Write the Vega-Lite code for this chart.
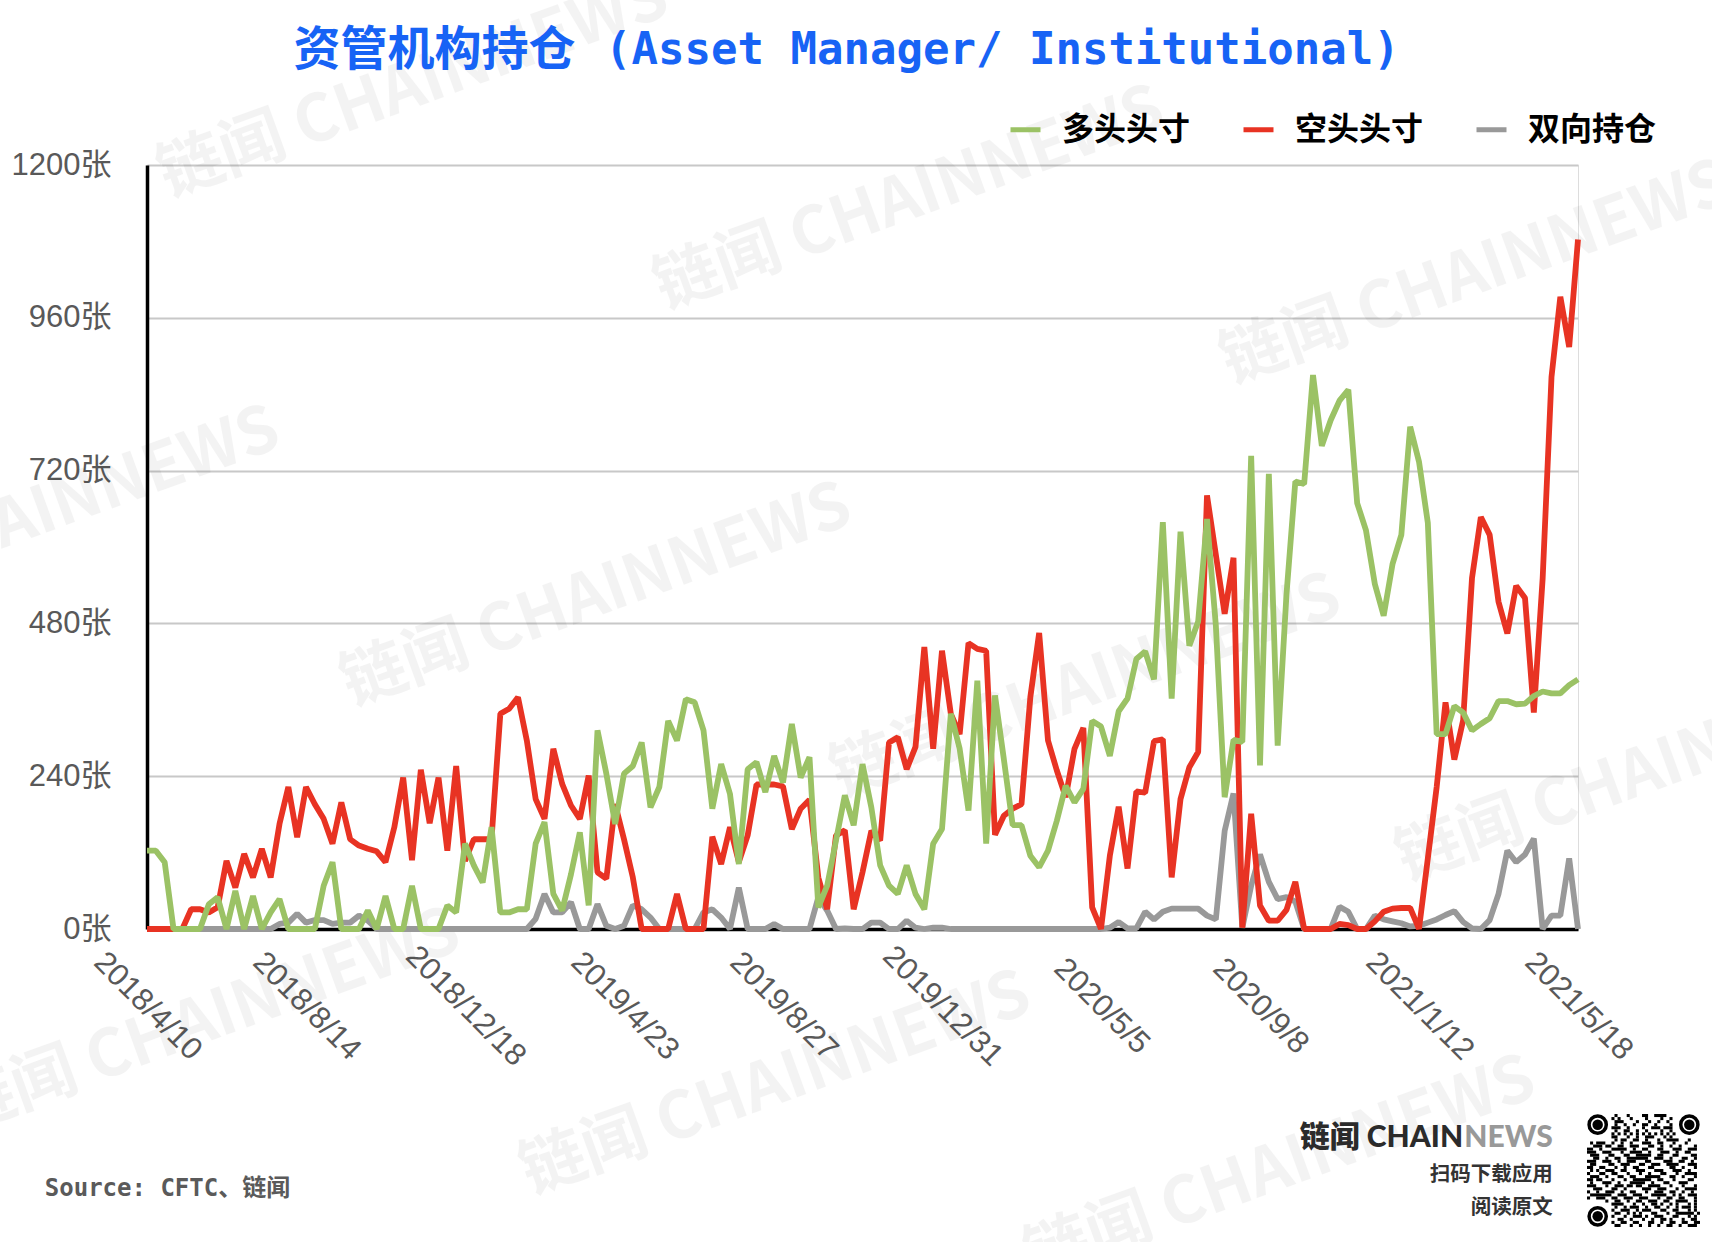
{"$schema":"https://vega.github.io/schema/vega-lite/v6.json","autosize":{"type":"none"},"padding":{"left":147,"top":165,"right":134,"bottom":313},"width":1431,"height":764,"background":"white",
"datasets":{"positions":[
{"d":"2018/4/10","多头头寸":123,"空头头寸":0,"双向持仓":0},{"d":"2018/4/17","多头头寸":123,"空头头寸":0,"双向持仓":0},{"d":"2018/4/24","多头头寸":105,"空头头寸":0,"双向持仓":0},{"d":"2018/5/1","多头头寸":0,"空头头寸":0,"双向持仓":0},{"d":"2018/5/8","多头头寸":0,"空头头寸":0,"双向持仓":0},{"d":"2018/5/15","多头头寸":0,"空头头寸":31,"双向持仓":0},{"d":"2018/5/22","多头头寸":0,"空头头寸":31,"双向持仓":0},{"d":"2018/5/29","多头头寸":39,"空头头寸":26,"双向持仓":0},{"d":"2018/6/5","多头头寸":50,"空头头寸":34,"双向持仓":0},{"d":"2018/6/12","多头头寸":0,"空头头寸":107,"双向持仓":0},
{"d":"2018/6/19","多头头寸":60,"空头头寸":65,"双向持仓":0},{"d":"2018/6/26","多头头寸":0,"空头头寸":118,"双向持仓":0},{"d":"2018/7/3","多头头寸":52,"空头头寸":81,"双向持仓":0},{"d":"2018/7/10","多头头寸":0,"空头头寸":126,"双向持仓":0},{"d":"2018/7/17","多头头寸":26,"空头头寸":81,"双向持仓":0},{"d":"2018/7/24","多头头寸":47,"空头头寸":165,"双向持仓":8},{"d":"2018/7/31","多头头寸":0,"空头头寸":223,"双向持仓":10},{"d":"2018/8/7","多头头寸":0,"空头头寸":144,"双向持仓":24},{"d":"2018/8/14","多头头寸":0,"空头头寸":223,"双向持仓":10},{"d":"2018/8/21","多头头寸":0,"空头头寸":196,"双向持仓":14},
{"d":"2018/8/28","多头头寸":68,"空头头寸":173,"双向持仓":14},{"d":"2018/9/4","多头头寸":105,"空头头寸":134,"双向持仓":8},{"d":"2018/9/11","多头头寸":0,"空头头寸":199,"双向持仓":10},{"d":"2018/9/18","多头头寸":0,"空头头寸":141,"双向持仓":10},{"d":"2018/9/25","多头头寸":0,"空头头寸":131,"双向持仓":21},{"d":"2018/10/2","多头头寸":29,"空头头寸":126,"双向持仓":13},{"d":"2018/10/9","多头头寸":0,"空头头寸":122,"双向持仓":0},{"d":"2018/10/16","多头头寸":52,"空头头寸":105,"双向持仓":0},{"d":"2018/10/23","多头头寸":0,"空头头寸":160,"双向持仓":0},{"d":"2018/10/30","多头头寸":0,"空头头寸":238,"双向持仓":0},
{"d":"2018/11/6","多头头寸":68,"空头头寸":108,"双向持仓":0},{"d":"2018/11/13","多头头寸":0,"空头头寸":250,"双向持仓":0},{"d":"2018/11/20","多头头寸":0,"空头头寸":166,"双向持仓":0},{"d":"2018/11/27","多头头寸":0,"空头头寸":238,"双向持仓":0},{"d":"2018/12/4","多头头寸":37,"空头头寸":123,"双向持仓":0},{"d":"2018/12/11","多头头寸":26,"空头头寸":256,"双向持仓":0},{"d":"2018/12/18","多头头寸":134,"空头头寸":107,"双向持仓":0},{"d":"2018/12/25","多头头寸":100,"空头头寸":141,"双向持仓":0},{"d":"2019/1/1","多头头寸":73,"空头头寸":141,"双向持仓":0},{"d":"2019/1/8","多头头寸":160,"空头头寸":141,"双向持仓":0},
{"d":"2019/1/15","多头头寸":26,"空头头寸":338,"双向持仓":0},{"d":"2019/1/22","多头头寸":26,"空头头寸":346,"双向持仓":0},{"d":"2019/1/29","多头头寸":31,"空头头寸":364,"双向持仓":0},{"d":"2019/2/5","多头头寸":31,"空头头寸":296,"双向持仓":0},{"d":"2019/2/12","多头头寸":134,"空头头寸":204,"双向持仓":16},{"d":"2019/2/19","多头头寸":168,"空头头寸":173,"双向持仓":55},{"d":"2019/2/26","多头头寸":55,"空头头寸":283,"双向持仓":26},{"d":"2019/3/5","多头头寸":29,"空头头寸":228,"双向持仓":26},{"d":"2019/3/12","多头头寸":86,"空头头寸":194,"双向持仓":42},{"d":"2019/3/19","多头头寸":152,"空头头寸":173,"双向持仓":0},
{"d":"2019/3/26","多头头寸":37,"空头头寸":241,"双向持仓":0},{"d":"2019/4/2","多头头寸":312,"空头头寸":89,"双向持仓":39},{"d":"2019/4/9","多头头寸":244,"空头头寸":79,"双向持仓":5},{"d":"2019/4/16","多头头寸":165,"空头头寸":196,"双向持仓":0},{"d":"2019/4/23","多头头寸":244,"空头头寸":141,"双向持仓":5},{"d":"2019/4/30","多头头寸":256,"空头头寸":81,"双向持仓":37},{"d":"2019/5/7","多头头寸":293,"空头头寸":0,"双向持仓":31},{"d":"2019/5/14","多头头寸":191,"空头头寸":0,"双向持仓":18},{"d":"2019/5/21","多头头寸":223,"空头头寸":0,"双向持仓":0},{"d":"2019/5/28","多头头寸":327,"空头头寸":0,"双向持仓":0},
{"d":"2019/6/4","多头头寸":296,"空头头寸":55,"双向持仓":0},{"d":"2019/6/11","多头头寸":361,"空头头寸":0,"双向持仓":0},{"d":"2019/6/18","多头头寸":356,"空头头寸":0,"双向持仓":0},{"d":"2019/6/25","多头头寸":312,"空头头寸":0,"双向持仓":26},{"d":"2019/7/2","多头头寸":189,"空头头寸":145,"双向持仓":31},{"d":"2019/7/9","多头头寸":259,"空头头寸":102,"双向持仓":18},{"d":"2019/7/16","多头头寸":212,"空头头寸":160,"双向持仓":0},{"d":"2019/7/23","多头头寸":102,"空头头寸":105,"双向持仓":65},{"d":"2019/7/30","多头头寸":251,"空头头寸":147,"双向持仓":0},{"d":"2019/8/6","多头头寸":262,"空头头寸":227,"双向持仓":0},
{"d":"2019/8/13","多头头寸":215,"空头头寸":227,"双向持仓":0},{"d":"2019/8/20","多头头寸":272,"空头头寸":227,"双向持仓":8},{"d":"2019/8/27","多头头寸":230,"空头头寸":224,"双向持仓":0},{"d":"2019/9/3","多头头寸":322,"空头头寸":157,"双向持仓":0},{"d":"2019/9/10","多头头寸":238,"空头头寸":189,"双向持仓":0},{"d":"2019/9/17","多头头寸":270,"空头头寸":203,"双向持仓":0},{"d":"2019/9/24","多头头寸":34,"空头头寸":81,"双向持仓":50},{"d":"2019/10/1","多头头寸":68,"空头头寸":31,"双向持仓":29},{"d":"2019/10/8","多头头寸":139,"空头头寸":147,"双向持仓":0},{"d":"2019/10/15","多头头寸":210,"空头头寸":155,"双向持仓":1},
{"d":"2019/10/22","多头头寸":163,"空头头寸":31,"双向持仓":0},{"d":"2019/10/29","多头头寸":259,"空头头寸":89,"双向持仓":0},{"d":"2019/11/5","多头头寸":191,"空头头寸":154,"双向持仓":10},{"d":"2019/11/12","多头头寸":100,"空头头寸":139,"双向持仓":10},{"d":"2019/11/19","多头头寸":68,"空头头寸":293,"双向持仓":0},{"d":"2019/11/26","多头头寸":55,"空头头寸":301,"双向持仓":0},{"d":"2019/12/3","多头头寸":100,"空头头寸":251,"双向持仓":13},{"d":"2019/12/10","多头头寸":55,"空头头寸":286,"双向持仓":2},{"d":"2019/12/17","多头头寸":31,"空头头寸":443,"双向持仓":0},{"d":"2019/12/24","多头头寸":134,"空头头寸":283,"双向持仓":2},
{"d":"2019/12/31","多头头寸":157,"空头头寸":437,"双向持仓":2},{"d":"2020/1/7","多头头寸":338,"空头头寸":338,"双向持仓":0},{"d":"2020/1/14","多头头寸":283,"空头头寸":306,"双向持仓":0},{"d":"2020/1/21","多头头寸":186,"空头头寸":449,"双向持仓":0},{"d":"2020/1/28","多头头寸":390,"空头头寸":440,"双向持仓":0},{"d":"2020/2/4","多头头寸":134,"空头头寸":437,"双向持仓":0},{"d":"2020/2/11","多头头寸":367,"空头头寸":148,"双向持仓":0},{"d":"2020/2/18","多头头寸":267,"空头头寸":178,"双向持仓":0},{"d":"2020/2/25","多头头寸":163,"空头头寸":189,"双向持仓":0},{"d":"2020/3/3","多头头寸":163,"空头头寸":196,"双向持仓":0},
{"d":"2020/3/10","多头头寸":115,"空头头寸":364,"双向持仓":0},{"d":"2020/3/17","多头头寸":97,"空头头寸":465,"双向持仓":0},{"d":"2020/3/24","多头头寸":123,"空头头寸":296,"双向持仓":0},{"d":"2020/3/31","多头头寸":170,"空头头寸":249,"双向持仓":0},{"d":"2020/4/7","多头头寸":225,"空头头寸":207,"双向持仓":0},{"d":"2020/4/14","多头头寸":199,"空头头寸":283,"双向持仓":0},{"d":"2020/4/21","多头头寸":220,"空头头寸":316,"双向持仓":0},{"d":"2020/4/28","多头头寸":327,"空头头寸":34,"双向持仓":0},{"d":"2020/5/5","多头头寸":318,"空头头寸":0,"双向持仓":0},{"d":"2020/5/12","多头头寸":272,"空头头寸":115,"双向持仓":2},
{"d":"2020/5/19","多头头寸":342,"空头头寸":192,"双向持仓":11},{"d":"2020/5/26","多头头寸":362,"空头头寸":95,"双向持仓":1},{"d":"2020/6/2","多头头寸":424,"空头头寸":216,"双向持仓":1},{"d":"2020/6/9","多头头寸":436,"空头头寸":214,"双向持仓":27},{"d":"2020/6/16","多头头寸":392,"空头头寸":295,"双向持仓":15},{"d":"2020/6/23","多头头寸":639,"空头头寸":298,"双向持仓":27},{"d":"2020/6/30","多头头寸":362,"空头头寸":81,"双向持仓":32},{"d":"2020/7/7","多头头寸":624,"空头头寸":204,"双向持仓":32},{"d":"2020/7/14","多头头寸":445,"空头头寸":254,"双向持仓":32},{"d":"2020/7/21","多头头寸":483,"空头头寸":278,"双向持仓":32},
{"d":"2020/7/28","多头头寸":644,"空头头寸":681,"双向持仓":21},{"d":"2020/8/4","多头头寸":477,"空头头寸":588,"双向持仓":15},{"d":"2020/8/11","多头头寸":207,"空头头寸":495,"双向持仓":154},{"d":"2020/8/18","多头头寸":297,"空头头寸":583,"双向持仓":213},{"d":"2020/8/25","多头头寸":294,"空头头寸":2,"双向持仓":2},{"d":"2020/9/1","多头头寸":743,"空头头寸":181,"双向持仓":68},{"d":"2020/9/8","多头头寸":257,"空头头寸":37,"双向持仓":117},{"d":"2020/9/15","多头头寸":715,"空头头寸":13,"双向持仓":74},{"d":"2020/9/22","多头头寸":288,"空头头寸":13,"双向持仓":47},{"d":"2020/9/29","多头头寸":526,"空头头寸":30,"双向持仓":50},
{"d":"2020/10/6","多头头寸":703,"空头头寸":74,"双向持仓":43},{"d":"2020/10/13","多头头寸":699,"空头头寸":0,"双向持仓":0},{"d":"2020/10/20","多头头寸":870,"空头头寸":0,"双向持仓":0},{"d":"2020/10/27","多头头寸":759,"空头头寸":0,"双向持仓":0},{"d":"2020/11/3","多头头寸":799,"空头头寸":0,"双向持仓":0},{"d":"2020/11/10","多头头寸":830,"空头头寸":8,"双向持仓":35},{"d":"2020/11/17","多头头寸":847,"空头头寸":6,"双向持仓":27},{"d":"2020/11/24","多头头寸":669,"空头头寸":0,"双向持仓":0},{"d":"2020/12/1","多头头寸":626,"空头头寸":0,"双向持仓":0},{"d":"2020/12/8","多头头寸":542,"空头头寸":12,"双向持仓":21},
{"d":"2020/12/15","多头头寸":492,"空头头寸":27,"双向持仓":15},{"d":"2020/12/22","多头头寸":573,"空头头寸":32,"双向持仓":12},{"d":"2020/12/29","多头头寸":619,"空头头寸":33,"双向持仓":9},{"d":"2021/1/5","多头头寸":789,"空头头寸":33,"双向持仓":4},{"d":"2021/1/12","多头头寸":734,"空头头寸":0,"双向持仓":5},{"d":"2021/1/19","多头头寸":638,"空头头寸":111,"双向持仓":10},{"d":"2021/1/26","多头头寸":306,"空头头寸":223,"双向持仓":15},{"d":"2021/2/2","多头头寸":306,"空头头寸":356,"双向持仓":22},{"d":"2021/2/9","多头头寸":350,"空头头寸":266,"双向持仓":28},{"d":"2021/2/16","多头头寸":340,"空头头寸":328,"双向持仓":11},
{"d":"2021/2/23","多头头寸":312,"空头头寸":551,"双向持仓":1},{"d":"2021/3/2","多头头寸":322,"空头头寸":647,"双向持仓":0},{"d":"2021/3/9","多头头寸":331,"空头头寸":619,"双向持仓":14},{"d":"2021/3/16","多头头寸":358,"空头头寸":514,"双向持仓":55},{"d":"2021/3/23","多头头寸":358,"空头头寸":464,"双向持仓":123},{"d":"2021/3/30","多头头寸":353,"空头头寸":539,"双向持仓":105},{"d":"2021/4/6","多头头寸":354,"空头头寸":520,"双向持仓":117},{"d":"2021/4/13","多头头寸":366,"空头头寸":340,"双向持仓":142},{"d":"2021/4/20","多头头寸":373,"空头头寸":551,"双向持仓":0},{"d":"2021/4/27","多头头寸":370,"空头头寸":867,"双向持仓":21},
{"d":"2021/5/4","多头头寸":370,"空头头寸":993,"双向持仓":21},{"d":"2021/5/11","多头头寸":383,"空头头寸":914,"双向持仓":111},{"d":"2021/5/18","多头头寸":392,"空头头寸":1083,"双向持仓":0}
],
"qr":[
{"r":0,"a":9,"b":10},{"r":0,"a":13,"b":14},{"r":0,"a":18,"b":20},{"r":0,"a":22,"b":26},
{"r":1,"a":8,"b":9},{"r":1,"a":10,"b":11},{"r":1,"a":14,"b":15},{"r":1,"a":19,"b":20},{"r":1,"a":24,"b":25},{"r":1,"a":27,"b":28},
{"r":2,"a":9,"b":12},{"r":2,"a":16,"b":17},{"r":2,"a":20,"b":21},{"r":2,"a":23,"b":24},{"r":2,"a":26,"b":27},
{"r":3,"a":9,"b":10},{"r":3,"a":12,"b":13},{"r":3,"a":15,"b":16},{"r":3,"a":18,"b":20},{"r":3,"a":22,"b":23},{"r":3,"a":27,"b":28},
{"r":4,"a":8,"b":11},{"r":4,"a":13,"b":14},{"r":4,"a":18,"b":19},{"r":4,"a":21,"b":24},{"r":4,"a":25,"b":28},
{"r":5,"a":9,"b":10},{"r":5,"a":12,"b":14},{"r":5,"a":16,"b":17},{"r":5,"a":19,"b":20},{"r":5,"a":24,"b":25},{"r":5,"a":27,"b":28},
{"r":6,"a":8,"b":9},{"r":6,"a":10,"b":11},{"r":6,"a":12,"b":13},{"r":6,"a":14,"b":15},{"r":6,"a":16,"b":17},{"r":6,"a":18,"b":19},{"r":6,"a":20,"b":21},{"r":6,"a":22,"b":23},{"r":6,"a":24,"b":25},{"r":6,"a":26,"b":27},{"r":6,"a":28,"b":29},
{"r":7,"a":8,"b":10},{"r":7,"a":13,"b":14},{"r":7,"a":16,"b":17},{"r":7,"a":19,"b":22},{"r":7,"a":25,"b":26},{"r":7,"a":27,"b":28},
{"r":8,"a":9,"b":10},{"r":8,"a":11,"b":13},{"r":8,"a":15,"b":17},{"r":8,"a":19,"b":20},{"r":8,"a":23,"b":24},{"r":8,"a":26,"b":30},{"r":8,"a":33,"b":34},
{"r":9,"a":1,"b":2},{"r":9,"a":3,"b":6},{"r":9,"a":8,"b":9},{"r":9,"a":11,"b":12},{"r":9,"a":14,"b":15},{"r":9,"a":18,"b":21},{"r":9,"a":23,"b":25},{"r":9,"a":28,"b":29},{"r":9,"a":32,"b":33},
{"r":10,"a":2,"b":5},{"r":10,"a":6,"b":8},{"r":10,"a":10,"b":12},{"r":10,"a":14,"b":17},{"r":10,"a":20,"b":22},{"r":10,"a":24,"b":25},{"r":10,"a":27,"b":28},{"r":10,"a":30,"b":31},{"r":10,"a":35,"b":36},
{"r":11,"a":0,"b":2},{"r":11,"a":4,"b":5},{"r":11,"a":8,"b":13},{"r":11,"a":15,"b":16},{"r":11,"a":18,"b":20},{"r":11,"a":23,"b":25},{"r":11,"a":28,"b":31},{"r":11,"a":33,"b":36},
{"r":12,"a":0,"b":3},{"r":12,"a":5,"b":8},{"r":12,"a":11,"b":12},{"r":12,"a":14,"b":18},{"r":12,"a":20,"b":21},{"r":12,"a":24,"b":27},{"r":12,"a":29,"b":30},{"r":12,"a":32,"b":34},
{"r":13,"a":1,"b":4},{"r":13,"a":7,"b":9},{"r":13,"a":12,"b":14},{"r":13,"a":16,"b":21},{"r":13,"a":23,"b":25},{"r":13,"a":28,"b":30},{"r":13,"a":34,"b":36},
{"r":14,"a":2,"b":4},{"r":14,"a":6,"b":7},{"r":14,"a":9,"b":11},{"r":14,"a":13,"b":20},{"r":14,"a":22,"b":25},{"r":14,"a":27,"b":28},{"r":14,"a":31,"b":33},{"r":14,"a":35,"b":36},
{"r":15,"a":0,"b":3},{"r":15,"a":5,"b":8},{"r":15,"a":10,"b":11},{"r":15,"a":13,"b":16},{"r":15,"a":19,"b":21},{"r":15,"a":25,"b":28},{"r":15,"a":30,"b":32},{"r":15,"a":34,"b":35},
{"r":16,"a":1,"b":3},{"r":16,"a":7,"b":9},{"r":16,"a":11,"b":14},{"r":16,"a":17,"b":19},{"r":16,"a":21,"b":24},{"r":16,"a":26,"b":30},{"r":16,"a":33,"b":36},
{"r":17,"a":0,"b":2},{"r":17,"a":4,"b":6},{"r":17,"a":9,"b":10},{"r":17,"a":12,"b":13},{"r":17,"a":15,"b":17},{"r":17,"a":20,"b":22},{"r":17,"a":27,"b":29},{"r":17,"a":31,"b":32},{"r":17,"a":35,"b":36},
{"r":18,"a":1,"b":2},{"r":18,"a":3,"b":4},{"r":18,"a":6,"b":9},{"r":18,"a":11,"b":13},{"r":18,"a":16,"b":19},{"r":18,"a":22,"b":25},{"r":18,"a":28,"b":31},{"r":18,"a":33,"b":34},
{"r":19,"a":0,"b":1},{"r":19,"a":4,"b":6},{"r":19,"a":8,"b":10},{"r":19,"a":13,"b":14},{"r":19,"a":17,"b":18},{"r":19,"a":20,"b":21},{"r":19,"a":24,"b":26},{"r":19,"a":29,"b":30},{"r":19,"a":32,"b":36},
{"r":20,"a":1,"b":4},{"r":20,"a":6,"b":7},{"r":20,"a":10,"b":12},{"r":20,"a":14,"b":16},{"r":20,"a":19,"b":24},{"r":20,"a":27,"b":29},{"r":20,"a":31,"b":32},{"r":20,"a":35,"b":36},
{"r":21,"a":0,"b":2},{"r":21,"a":3,"b":5},{"r":21,"a":8,"b":9},{"r":21,"a":12,"b":13},{"r":21,"a":15,"b":21},{"r":21,"a":23,"b":25},{"r":21,"a":28,"b":29},{"r":21,"a":33,"b":35},
{"r":22,"a":1,"b":2},{"r":22,"a":5,"b":8},{"r":22,"a":10,"b":11},{"r":22,"a":14,"b":19},{"r":22,"a":21,"b":22},{"r":22,"a":25,"b":27},{"r":22,"a":30,"b":33},
{"r":23,"a":0,"b":3},{"r":23,"a":6,"b":7},{"r":23,"a":9,"b":12},{"r":23,"a":13,"b":15},{"r":23,"a":16,"b":18},{"r":23,"a":20,"b":24},{"r":23,"a":27,"b":28},{"r":23,"a":31,"b":32},{"r":23,"a":35,"b":36},
{"r":24,"a":2,"b":5},{"r":24,"a":8,"b":10},{"r":24,"a":12,"b":13},{"r":24,"a":18,"b":21},{"r":24,"a":23,"b":26},{"r":24,"a":29,"b":30},{"r":24,"a":32,"b":36},
{"r":25,"a":0,"b":1},{"r":25,"a":3,"b":4},{"r":25,"a":6,"b":9},{"r":25,"a":11,"b":12},{"r":25,"a":14,"b":16},{"r":25,"a":19,"b":20},{"r":25,"a":22,"b":25},{"r":25,"a":27,"b":29},{"r":25,"a":31,"b":32},{"r":25,"a":34,"b":35},
{"r":26,"a":1,"b":8},{"r":26,"a":10,"b":13},{"r":26,"a":15,"b":18},{"r":26,"a":21,"b":26},{"r":26,"a":28,"b":29},{"r":26,"a":30,"b":31},{"r":26,"a":33,"b":36},
{"r":27,"a":0,"b":1},{"r":27,"a":3,"b":6},{"r":27,"a":8,"b":10},{"r":27,"a":12,"b":15},{"r":27,"a":17,"b":20},{"r":27,"a":23,"b":24},{"r":27,"a":26,"b":28},{"r":27,"a":30,"b":32},{"r":27,"a":35,"b":36},
{"r":28,"a":6,"b":7},{"r":28,"a":9,"b":11},{"r":28,"a":13,"b":14},{"r":28,"a":16,"b":18},{"r":28,"a":20,"b":23},{"r":28,"a":25,"b":27},{"r":28,"a":29,"b":33},{"r":28,"a":35,"b":36},
{"r":29,"a":8,"b":12},{"r":29,"a":15,"b":16},{"r":29,"a":18,"b":19},{"r":29,"a":21,"b":23},{"r":29,"a":24,"b":25},{"r":29,"a":27,"b":28},{"r":29,"a":29,"b":30},{"r":29,"a":33,"b":34},{"r":29,"a":35,"b":36},
{"r":30,"a":9,"b":10},{"r":30,"a":12,"b":13},{"r":30,"a":14,"b":17},{"r":30,"a":19,"b":20},{"r":30,"a":22,"b":24},{"r":30,"a":26,"b":27},{"r":30,"a":29,"b":30},{"r":30,"a":31,"b":34},{"r":30,"a":35,"b":36},
{"r":31,"a":8,"b":9},{"r":31,"a":11,"b":14},{"r":31,"a":16,"b":17},{"r":31,"a":18,"b":21},{"r":31,"a":24,"b":26},{"r":31,"a":28,"b":30},{"r":31,"a":33,"b":34},{"r":31,"a":35,"b":36},
{"r":32,"a":9,"b":11},{"r":32,"a":13,"b":14},{"r":32,"a":15,"b":16},{"r":32,"a":17,"b":18},{"r":32,"a":21,"b":23},{"r":32,"a":26,"b":27},{"r":32,"a":29,"b":35},{"r":32,"a":36,"b":37},
{"r":33,"a":8,"b":9},{"r":33,"a":12,"b":13},{"r":33,"a":15,"b":18},{"r":33,"a":19,"b":20},{"r":33,"a":22,"b":25},{"r":33,"a":28,"b":30},{"r":33,"a":33,"b":34},{"r":33,"a":35,"b":36},
{"r":34,"a":10,"b":12},{"r":34,"a":14,"b":15},{"r":34,"a":18,"b":19},{"r":34,"a":21,"b":22},{"r":34,"a":24,"b":26},{"r":34,"a":27,"b":28},{"r":34,"a":31,"b":32},{"r":34,"a":34,"b":36},
{"r":35,"a":8,"b":9},{"r":35,"a":11,"b":13},{"r":35,"a":15,"b":17},{"r":35,"a":20,"b":22},{"r":35,"a":24,"b":25},{"r":35,"a":27,"b":29},{"r":35,"a":31,"b":33},{"r":35,"a":35,"b":37},
{"r":36,"a":9,"b":11},{"r":36,"a":14,"b":15},{"r":36,"a":17,"b":18},{"r":36,"a":20,"b":21},{"r":36,"a":23,"b":24},{"r":36,"a":26,"b":28},{"r":36,"a":30,"b":31},{"r":36,"a":33,"b":36}
],
"finder":[{"r":3,"a":3.5},{"r":3,"a":33.5},{"r":33,"a":3.5}]},
"layer":[
{"encoding":{
"x":{"field":"d","type":"temporal","title":null,"scale":{"domain":[{"year":2018,"month":4,"date":10},{"year":2021,"month":5,"date":18}],"nice":false},"axis":{"values":[{"year":2018,"month":4,"date":10},{"year":2018,"month":8,"date":14},{"year":2018,"month":12,"date":18},{"year":2019,"month":4,"date":23},{"year":2019,"month":8,"date":27},{"year":2019,"month":12,"date":31},{"year":2020,"month":5,"date":5},{"year":2020,"month":9,"date":8},{"year":2021,"month":1,"date":12},{"year":2021,"month":5,"date":18}],"format":"%Y/%-m/%-d","grid":false,"ticks":false,"domainColor":"black","domainWidth":3.5,"labelAngle":45,"labelAlign":"center","labelBaseline":"middle","labelPadding":77,"labelFontSize":31,"labelFont":"Liberation Sans","labelColor":"#595959","labelOverlap":false,"labelFlush":false,"labelBound":false}},
"y":{"field":"v","type":"quantitative","title":null,"scale":{"domain":[0,1200],"nice":false},"axis":{"values":[0,240,480,720,960,1200],"labelExpr":"datum.value + '张'","grid":true,"gridColor":"#c8c8c8","gridWidth":2,"ticks":false,"domainColor":"black","domainWidth":3.5,"labelPadding":36,"labelFontSize":31,"labelFont":"Liberation Sans, Noto Sans CJK SC","labelColor":"#595959","labelOverlap":false,"labelFlush":false,"labelBound":false}}
},
"layer":[
{"data":{"values":[{"d":"2018/11/7","v":1323,"t":"链闻 CHAINNEWS"},{"d":"2019/12/5","v":1147,"t":"链闻 CHAINNEWS"},{"d":"2021/2/26","v":1030,"t":"链闻 CHAINNEWS"},{"d":"2019/4/1","v":524,"t":"链闻 CHAINNEWS"},{"d":"2018/1/3","v":644,"t":"链闻 CHAINNEWS"},{"d":"2020/4/23","v":381,"t":"链闻 CHAINNEWS"},{"d":"2021/7/15","v":249,"t":"链闻 CHAINNEWS"},{"d":"2018/5/26","v":-145,"t":"链闻 CHAINNEWS"},{"d":"2019/8/21","v":-243,"t":"链闻 CHAINNEWS"},{"d":"2020/9/24","v":-376,"t":"链闻 CHAINNEWS"}]},
"mark":{"type":"text","font":"Noto Sans CJK SC","fontWeight":"bold","fontSize":65,"color":"#000000","opacity":0.045,"angle":340,"align":"center","baseline":"middle"},"encoding":{"text":{"field":"t"}}},
{"data":{"name":"positions"},"transform":[{"fold":["双向持仓","空头头寸","多头头寸"],"as":["series","v"]}],
"mark":{"type":"line","strokeWidth":5.8,"strokeJoin":"bevel"},
"encoding":{"color":{"field":"series","type":"nominal","scale":{"domain":["多头头寸","空头头寸","双向持仓"],"range":["#9BC265","#E83323","#999999"]},"legend":{"title":null,"orient":"none","legendX":861,"legendY":-53,"direction":"horizontal","columns":3,"symbolType":"stroke","symbolSize":900,"symbolStrokeWidth":5,"labelFont":"Noto Sans CJK SC","labelFontWeight":"bold","labelFontSize":32,"labelColor":"black","labelOffset":19,"columnPadding":42}}}},
{"data":{"values":[{"d":"2018/8/4","v":1379,"t":"资管机构持仓"}]},"mark":{"type":"text","font":"Noto Sans CJK SC","fontWeight":"bold","fontSize":47,"color":"#1763F5","align":"left","baseline":"middle"},"encoding":{"text":{"field":"t"}}},
{"data":{"values":[{"d":"2019/4/8","v":1379,"t":"(Asset Manager/ Institutional)"}]},"mark":{"type":"text","font":"DejaVu Sans Mono","fontWeight":"bold","fontSize":44,"color":"#1763F5","align":"left","baseline":"middle"},"encoding":{"text":{"field":"t"}}},
{"data":{"values":[{"d":"2018/1/19","v":-408,"t":"Source: CFTC、链闻"}]},"mark":{"type":"text","font":"DejaVu Sans Mono, Noto Sans CJK SC","fontWeight":"bold","fontSize":24,"color":"#5a5a5a","align":"left","baseline":"middle"},"encoding":{"text":{"field":"t"}}},
{"data":{"values":[{"d":"2021/2/16","v":-328,"t":"链闻 CHAIN"}]},"mark":{"type":"text","font":"Lato, Noto Sans CJK SC","fontWeight":900,"fontSize":30,"color":"#2b2b2b","align":"right","baseline":"middle"},"encoding":{"text":{"field":"t"}}},
{"data":{"values":[{"d":"2021/4/28","v":-328,"t":"NEWS"}]},"mark":{"type":"text","font":"Lato, Noto Sans CJK SC","fontWeight":900,"fontSize":30,"color":"#999999","align":"right","baseline":"middle"},"encoding":{"text":{"field":"t"}}},
{"data":{"values":[{"d":"2021/4/28","v":-386,"t":"扫码下载应用"},{"d":"2021/4/28","v":-438,"t":"阅读原文"}]},"mark":{"type":"text","font":"Noto Sans CJK SC","fontWeight":"bold","fontSize":20.5,"color":"#333333","align":"right","baseline":"middle"},"encoding":{"text":{"field":"t"}}}
]},
{"encoding":{
"y":{"field":"r","type":"ordinal","title":null,"axis":null,"scale":{"domain":[0,1,2,3,4,5,6,7,8,9,10,11,12,13,14,15,16,17,18,19,20,21,22,23,24,25,26,27,28,29,30,31,32,33,34,35,36],"range":[949,1062],"paddingInner":0,"paddingOuter":0}}},
"layer":[
{"data":{"name":"qr"},"mark":{"type":"rect","color":"black"},"encoding":{"x":{"field":"a","type":"quantitative","title":null,"axis":null,"scale":{"domain":[0,37],"range":[1440,1553],"nice":false,"zero":false}},"x2":{"field":"b"}}},
{"data":{"name":"finder"},"mark":{"type":"point","shape":"circle","filled":false,"color":"black","strokeWidth":3.5,"size":296,"opacity":1},"encoding":{"x":{"field":"a","type":"quantitative","title":null,"axis":null}}},
{"data":{"name":"finder"},"mark":{"type":"point","shape":"circle","filled":true,"color":"black","size":110,"opacity":1},"encoding":{"x":{"field":"a","type":"quantitative","title":null,"axis":null}}}
]}
],
"resolve":{"scale":{"x":"independent","y":"independent"}}}
